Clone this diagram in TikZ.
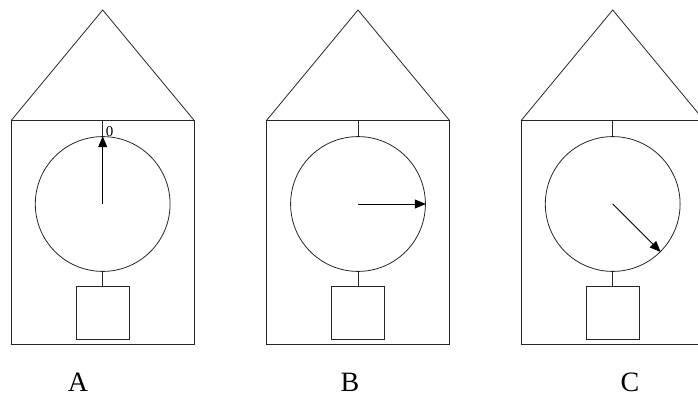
\documentclass[tikz,border=0pt]{standalone}
\usepackage{fontspec}
\setmainfont{Liberation Serif}
\usetikzlibrary{arrows.meta}
\begin{document}
\begin{tikzpicture}[x=1pt,y=1pt,
  ln/.style={line width=0.8pt,draw=black!85},
  dial/.style={ln,circle,minimum size=134.8pt,inner sep=0pt},
  weight/.style={ln,rectangle,minimum width=52.4pt,minimum height=53pt,inner sep=0pt},
  hand/.style={line width=0.8pt,-{Triangle[length=11pt,width=9pt]}},
  lab/.style={font=\fontsize{28}{30}\selectfont,inner sep=0pt}]
\useasboundingbox (0,0) rectangle (698,397);
\foreach \n/\dx in {a/0,b/255.3,c/510}{
  \begin{scope}[xshift=\dx pt]
    \draw[ln] (11,53) rectangle (194.4,276.3);
    \draw[ln] (11,276.3) -- (102.7,387) -- (194.4,276.3);
    \coordinate (top\n) at (102.7,276.3);
    \node[dial] (dial\n) at (102.7,193) {};
    \node[weight] (w\n) at (102.7,83.8) {};
    \draw[ln] (top\n) -- (dial\n.north);
    \draw[ln] (dial\n.south) -- (w\n.north);
  \end{scope}
}
\draw[hand] (diala.center) -- (diala.north);
\draw[hand] (dialb.center) -- (dialb.east);
\draw[hand] (dialc.center) -- (dialc.-45);
\node[font=\fontsize{15}{16}\selectfont,inner sep=0pt] (zero) at (109.5,265.7) {0};
\node[lab] (la) at (78,15) {A};
\node[lab] (lb) at (350,15) {B};
\node[lab] (lc) at (630,15) {C};
\end{tikzpicture}
\end{document}
